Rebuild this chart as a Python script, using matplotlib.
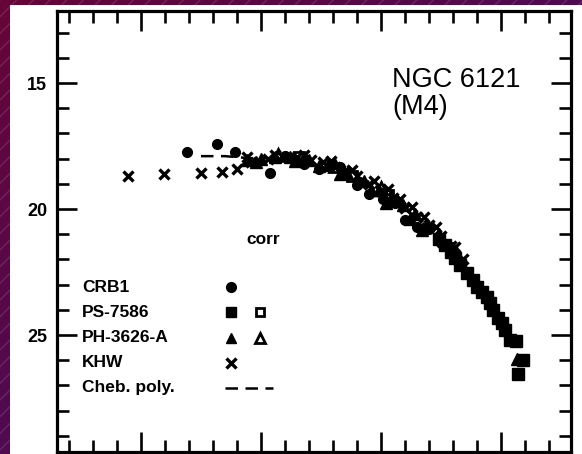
import numpy as np
import matplotlib
matplotlib.use("Agg")
import matplotlib.pyplot as plt
from matplotlib.patches import Rectangle

plt.rcParams['font.family'] = ['Liberation Sans', 'DejaVu Sans']

# CRB1 (filled circles)
crb_x = [1.19, 1.317, 1.392, 1.5375, 1.60, 1.68, 1.74, 1.83, 1.90, 1.95, 2.01, 2.06,
         2.10, 2.15, 2.20, 2.25, 2.30]
crb_y = [17.74, 17.42, 17.74, 18.57, 17.9, 18.2, 18.40, 18.35, 19.05, 19.4, 19.6, 19.75,
         20.45, 20.7, 20.8, 21.35, 21.7]

# PS-7586 (filled squares) and corrected (open squares)
ps_x = [2.24, 2.267, 2.29, 2.308, 2.33, 2.358, 2.383, 2.40, 2.42, 2.442,
        2.454, 2.467, 2.4875, 2.504, 2.517, 2.5375, 2.5625, 2.592, 2.571]
ps_y = [21.2, 21.43, 21.7, 21.94, 22.2, 22.54, 22.82, 23.10, 23.3, 23.49,
        23.73, 24.01, 24.33, 24.52, 24.80, 25.20, 25.24, 25.99, 26.55]
psc_x = [1.66, 1.88, 2.03]
psc_y = [17.95, 18.7, 19.45]

# PH-3626-A (filled triangles) and corrected (open triangles)
ph_x = [1.44, 1.48, 1.50, 1.56, 1.62, 1.64, 1.70, 1.74, 1.78, 1.83, 1.86, 1.93, 1.96,
        1.99, 2.02, 2.04, 2.09, 2.12, 2.14, 2.17, 2.19, 2.24, 2.30, 2.567]
ph_y = [18.05, 18.15, 18.0, 17.92, 17.95, 18.1, 18.05, 18.3, 18.25, 18.6, 18.55, 18.9, 19.25,
        19.25, 19.75, 19.55, 19.85, 20.4, 20.2, 20.85, 20.6, 21.0, 21.55, 25.95]
phc_x = [1.57, 1.81, 2.00]
phc_y = [17.85, 18.3, 19.15]

# KHW (crosses)
khw_x = [0.946, 1.096, 1.25, 1.3375, 1.40, 1.44, 1.46, 1.53, 1.56, 1.59, 1.65, 1.68,
         1.71, 1.76, 1.79, 1.81, 1.85, 1.88, 1.90, 1.95, 1.97, 2.00, 2.03, 2.05, 2.08,
         2.10, 2.13, 2.15, 2.18, 2.20, 2.23, 2.25, 2.29, 2.31, 2.34]
khw_y = [18.69, 18.61, 18.57, 18.53, 18.41, 17.95, 18.15, 18.0, 17.85, 17.95, 17.95, 17.85,
         18.05, 18.15, 18.1, 18.35, 18.5, 18.45, 18.7, 19.0, 18.9, 19.3, 19.2, 19.55, 19.6,
         19.95, 19.9, 20.3, 20.3, 20.65, 20.7, 21.05, 21.45, 21.5, 22.0]

# Chebyshev polynomial fit
cheb_x = [1.25, 1.35, 1.45, 1.55, 1.65, 1.75, 1.85, 1.95, 2.05, 2.15, 2.25, 2.35, 2.45, 2.55]
cheb_y = [17.9, 17.9, 17.98, 17.98, 17.98, 18.13, 18.5, 18.92, 19.6, 20.36, 21.19, 22.34, 23.6, 25.4]

legend_labels = ['CRB1', 'PS-7586', 'PH-3626-A', 'KHW', 'Cheb. poly.']
legend_y = [23.1, 24.1, 25.1, 26.1, 27.1]

W, H = 582, 454
fig = plt.figure(figsize=(W / 100, H / 100), dpi=100)

# scanned-slide background
bg = fig.add_axes([0, 0, 1, 1])
bg.set_axis_off()
gx, gy = np.meshgrid(np.linspace(0, 1, 64), np.linspace(0, 1, 64))
t = (gx + gy) / 2
c0 = np.array([0.40, 0.02, 0.22])
c1 = np.array([0.22, 0.06, 0.42])
img = c0[None, None, :] * (1 - t[..., None]) + c1[None, None, :] * t[..., None]
bg.imshow(img, extent=[0, 1, 0, 1], aspect='auto')
bg.add_patch(Rectangle((0, 0), 1, 1, facecolor='none', edgecolor=(1, 1, 1, 0.12),
                       hatch='//', lw=0))
bg.add_patch(Rectangle((10 / W, 0), 1, 1 - 5 / H, facecolor='white', lw=0))
bg.set_xlim(0, 1)
bg.set_ylim(0, 1)

ax = fig.add_axes([57 / W, 2 / H, 514 / W, 441 / H])
ax.set_facecolor('white')
ax.set_xlim(0.65, 2.792)
ax.set_ylim(29.64, 12.14)

k = dict(color='black', linestyle='none', zorder=3)
ax.plot(cheb_x, cheb_y, color='black', lw=1.8, linestyle=(0, (5, 3)), zorder=2)
ax.plot(psc_x, psc_y, marker='s', ms=7, mfc='white', mew=2, **k)
ax.plot(phc_x, phc_y, marker='^', ms=8, mfc='white', mew=2, **k)
ax.plot(khw_x, khw_y, marker='x', ms=7.5, mew=2.4, **k)
ax.plot(ph_x, ph_y, marker='^', ms=8.5, **k)
ax.plot(crb_x, crb_y, marker='o', ms=7, **k)
ax.plot(ps_x, ps_y, marker='s', ms=8, **k)

# legend drawn inside the frame
for lab, yy in zip(legend_labels, legend_y):
    ax.text(0.755, yy, lab, fontsize=12.5, fontweight='bold', va='center', ha='left')
ax.plot([1.375], [legend_y[0]], marker='o', ms=7, **k)
ax.plot([1.375], [legend_y[1]], marker='s', ms=6.5, **k)
ax.plot([1.496], [legend_y[1]], marker='s', ms=6, mfc='white', mew=2, **k)
ax.plot([1.375], [legend_y[2]], marker='^', ms=7.5, **k)
ax.plot([1.496], [legend_y[2]], marker='^', ms=7.5, mfc='white', mew=2, **k)
ax.plot([1.375], [legend_y[3]], marker='x', ms=6.5, mew=2.4, **k)
ax.plot([1.35, 1.55], [legend_y[4], legend_y[4]], color='black', lw=1.8,
        linestyle=(0, (5, 3)))

ax.text(1.51, 21.2, 'corr', fontsize=12.5, fontweight='bold', ha='center', va='center')
ax.text(2.046, 14.35, 'NGC 6121\n(M4)', fontsize=19.5, ha='left', va='top',
        linespacing=1.05)

ax.set_xticks([1.0, 1.5, 2.0, 2.5])
ax.set_xticks(np.arange(0.7, 2.8, 0.1), minor=True)
ax.set_yticks([15, 20, 25])
ax.set_yticks(np.arange(13, 30, 1), minor=True)
ax.tick_params(which='both', direction='in', top=True, right=True, width=1.9,
               labelbottom=False)
ax.tick_params(which='major', length=14.5, labelsize=13, pad=7)
ax.tick_params(which='minor', length=8.5)
for lbl in ax.get_yticklabels():
    lbl.set_fontweight('bold')
for s in ax.spines.values():
    s.set_linewidth(2.3)

fig.savefig('out.png', dpi=100)
